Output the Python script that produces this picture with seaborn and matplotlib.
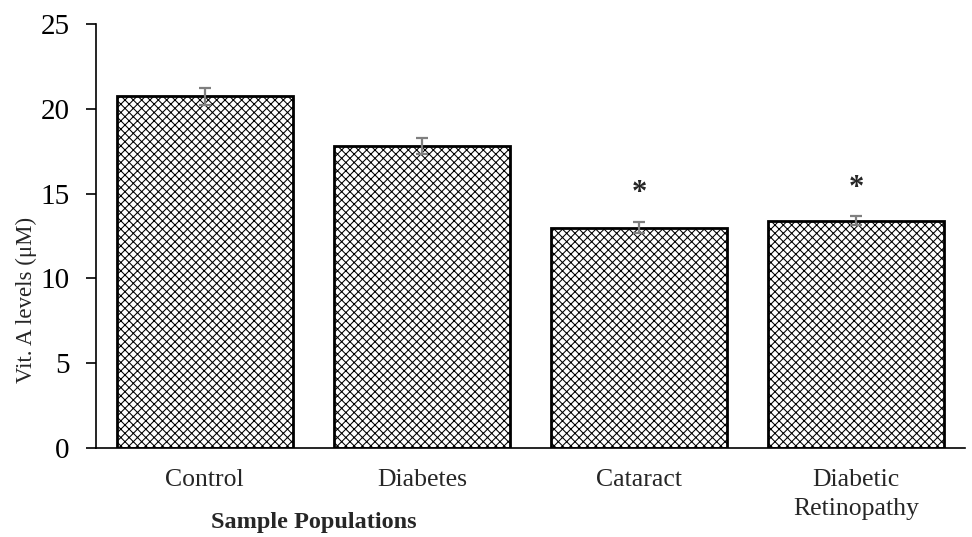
import matplotlib
matplotlib.use("Agg")
import matplotlib.pyplot as plt
import seaborn as sns
import pandas as pd

categories = ["Control", "Diabetes", "Cataract", "Diabetic\nRetinopathy"]
values = [20.75, 17.8, 13.0, 13.4]
errors = [0.5, 0.45, 0.3, 0.25]
signif = ["", "", "*", "*"]
star_y = [None, None, 15.0, 15.3]
yticks = [0, 5, 10, 15, 20, 25]

sns.set_theme(style="white")
plt.rcParams["font.family"] = ["Liberation Serif", "DejaVu Serif"]
plt.rcParams["hatch.linewidth"] = 0.75
plt.rcParams["hatch.color"] = "#3a3a3a"

df = pd.DataFrame({"cat": categories, "val": values})

fig = plt.figure(figsize=(9.72, 5.37), dpi=100)
ax = fig.add_axes([96/972, 89/537, 869/972, 424/537])

sns.barplot(data=df, x="cat", y="val", ax=ax, color="white", width=0.81,
            edgecolor="black", linewidth=2, errorbar=None, saturation=1)
for p in ax.patches:
    p.set_hatch("xxxx")
    p.set_facecolor("white")

ax.errorbar(range(len(categories)), values, yerr=errors, fmt="none",
            ecolor="#7f7f7f", elinewidth=1.6, capsize=4.5, capthick=1.6, zorder=5)

for i, (s, yv) in enumerate(zip(signif, star_y)):
    if s:
        ax.text(i, yv, s, ha="center", va="center", fontsize=22, fontweight="bold")

ax.set_xlim(-0.5, 3.5)
ax.set_ylim(0, 25)
ax.set_yticks(yticks)
ax.set_yticklabels([str(t) for t in yticks], fontsize=21)
ax.tick_params(axis="y", direction="out", length=7, width=1.2, left=True, pad=12, colors="black")
ax.tick_params(axis="x", length=0, pad=15, labelsize=18.5)
for lbl in ax.get_xticklabels():
    lbl.set_multialignment("center")
    lbl.set_linespacing(1.45)

sns.despine(ax=ax)
ax.spines["left"].set_color("black")
ax.spines["bottom"].set_color("black")
ax.spines["left"].set_linewidth(1.2)
ax.spines["bottom"].set_linewidth(1.2)

ax.set_ylabel("Vit. A levels (μM)", fontsize=16.5)
ax.yaxis.set_label_coords(-0.068, 0.349)
ax.set_xlabel("Sample Populations", fontsize=17.5, fontweight="bold")
ax.xaxis.set_label_coords(0.251, -0.152)

fig.savefig("out.png", dpi=100)
